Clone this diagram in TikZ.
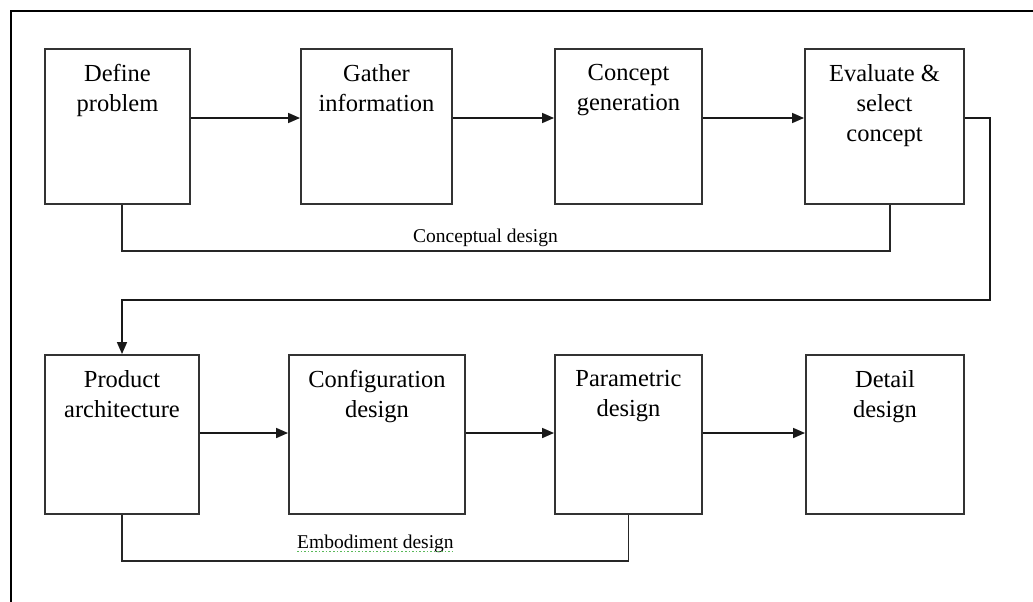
\documentclass[tikz,border=0pt]{standalone}
\usepackage{fontspec}
\setmainfont{Liberation Serif}
\usetikzlibrary{arrows.meta}
\definecolor{spellgreen}{RGB}{90,185,90}
\begin{document}
\begin{tikzpicture}[x=1pt,y=1pt,
  stagebox/.style={draw=black!80,line width=1.9pt,fill=white,inner sep=0pt,minimum height=155pt},
  stagetxt/.style={anchor=north,inner sep=0pt,align=center,font=\fontsize{24.5}{30}\selectfont},
  flow/.style={line width=1.7pt,draw=black!90,-{Triangle[length=12pt,width=10pt]}},
  bracket/.style={line width=1.7pt,draw=black!85},
  smalltxt/.style={inner sep=0pt,anchor=base west,font=\fontsize{19.5}{22}\selectfont}]
\useasboundingbox (0,0) rectangle (1033,-602);
\draw[line width=2.2pt] (11,-602) -- (11,-11) -- (1033,-11);
% row 1
\node[stagebox,minimum width=145pt] (b1) at (117.5,-126.5) {};
\node[stagebox,minimum width=151pt] (b2) at (376.5,-126.5) {};
\node[stagebox,minimum width=147pt] (b3) at (628.5,-126.5) {};
\node[stagebox,minimum width=159pt] (b4) at (884.5,-126.5) {};
% row 2
\node[stagebox,minimum width=154pt,minimum height=159pt] (b5) at (122,-434.5) {};
\node[stagebox,minimum width=176pt,minimum height=159pt] (b6) at (377,-434.5) {};
\node[stagebox,minimum width=147pt,minimum height=159pt] (b7) at (628.5,-434.5) {};
\node[stagebox,minimum width=158pt,minimum height=159pt] (b8) at (885,-434.5) {};
% texts
\node[stagetxt] (t1) at ([yshift=-16pt]b1.north) {Define\\problem};
\node[stagetxt] (t2) at ([yshift=-16pt]b2.north) {Gather\\information};
\node[stagetxt] (t3) at ([yshift=-16pt]b3.north) {Concept\\generation};
\node[stagetxt] (t4) at ([yshift=-16pt]b4.north) {Evaluate \&\\select\\concept};
\node[stagetxt] (t5) at ([yshift=-16pt]b5.north) {Product\\architecture};
\node[stagetxt] (t6) at ([yshift=-16pt]b6.north) {Configuration\\design};
\node[stagetxt] (t7) at ([yshift=-16pt]b7.north) {Parametric\\design};
\node[stagetxt] (t8) at ([yshift=-16pt]b8.north) {Detail\\design};
% arrows row 1
\draw[flow] ([yshift=8.5pt]b1.east) -- ([yshift=8.5pt]b2.west);
\draw[flow] ([yshift=8.5pt]b2.east) -- ([yshift=8.5pt]b3.west);
\draw[flow] ([yshift=8.5pt]b3.east) -- ([yshift=8.5pt]b4.west);
% loop to row 2
\draw[flow] ([yshift=8.5pt]b4.east) -- ++(25,0) |- ([yshift=54pt]b5.north) -- (b5.north);
% arrows row 2
\draw[flow] ([yshift=1.5pt]b5.east) -- ([yshift=1.5pt]b6.west);
\draw[flow] ([yshift=1.5pt]b6.east) -- ([yshift=1.5pt]b7.west);
\draw[flow] ([yshift=1.5pt]b7.east) -- ([yshift=1.5pt]b8.west);
% brackets
\draw[bracket] ([xshift=4.5pt]b1.south) -- ++(0,-46) -| ([xshift=5.5pt]b4.south);
\draw[bracket] (b5.south) -- ++(0,-46) -| (b7.south);
\node[smalltxt] (cd) at (413,-242) {Conceptual design};
\node[smalltxt] (ed) at (297,-548) {Embodiment design};
\draw[spellgreen,line width=1.6pt,dotted] ([yshift=-3.5pt]ed.base west) -- ([yshift=-3.5pt]ed.base east);
\end{tikzpicture}
\end{document}
